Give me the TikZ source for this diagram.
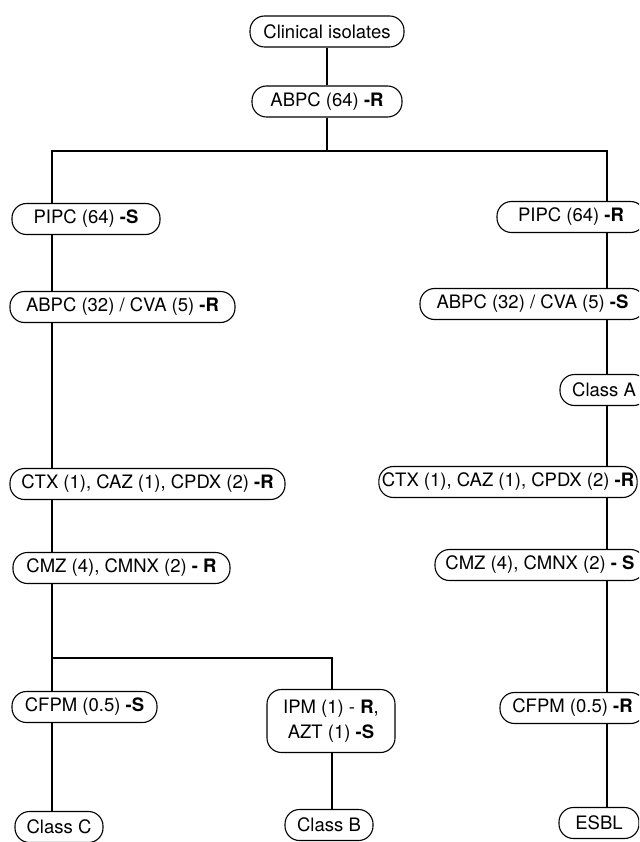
\documentclass[tikz,border=0pt]{standalone}
\usepackage{fontspec}
\setmainfont{TeX Gyre Heros}
\begin{document}
\begin{tikzpicture}[x=1pt,y=-1pt,
  box/.style={draw, line width=1.1pt, rectangle, rounded corners=14.5pt, minimum height=31pt, inner xsep=3pt, inner ysep=2pt, font=\fontsize{18.5}{25}\selectfont},
  link/.style={line width=1.8pt}]
\useasboundingbox (0,0) rectangle (639,842);
\clip (0,0) rectangle (639,842);
% trunk x positions
\coordinate (L) at (52,0);
\coordinate (R) at (607,0);
\coordinate (h1) at (327,151);
\coordinate (M) at (332,658);
% nodes
\node[box, minimum width=154pt] (clin) at (327,31.5) {Clinical isolates};
\node[box, minimum width=150pt] (abpc64) at (327,101.5) {ABPC (64) \textbf{-R}};
\node[box, minimum width=148pt] (pipcS) at (86,219) {PIPC (64) \textbf{-S}};
\node[box, minimum width=148pt] (pipcR) at (571,217) {PIPC (64) \textbf{-R}};
\node[box, minimum width=225pt] (abpcR) at (122.5,307) {ABPC (32) / CVA (5) \textbf{-R}};
\node[box, minimum width=225pt] (abpcS) at (532.5,304) {ABPC (32) / CVA (5) \textbf{-S}};
\node[box, minimum width=88pt] (classA) at (604,390) {Class A};
\node[box, minimum width=275pt] (ctxL) at (147.5,484) {CTX (1), CAZ (1), CPDX (2) \textbf{-R}};
\node[box] (ctxR) at (508,482) {CTX (1), CAZ (1), CPDX (2) \textbf{-R}};
\node[box, minimum width=217pt] (cmzL) at (121.5,568) {CMZ (4), CMNX (2) \textbf{- R}};
\node[box, minimum width=210pt] (cmzR) at (540,565) {CMZ (4), CMNX (2) \textbf{- S}};
\node[box, minimum width=145pt] (cfpmS) at (84.5,707) {CFPM (0.5) \textbf{-S}};
\node[box, minimum width=128pt, minimum height=63pt, align=center] (ipm) at (331,721) {IPM (1) - \textbf{R},\\AZT (1) \textbf{-S}};
\node[box, minimum width=145pt] (cfpmR) at (572.5,708) {CFPM (0.5) \textbf{-R}};
\node[box, minimum width=88pt] (classC) at (59,827) {Class C};
\node[box, minimum width=88pt] (classB) at (329,825) {Class B};
\node[box, minimum width=80pt] (esbl) at (599,823) {ESBL};
% connectors
\draw[link] (clin) -- (abpc64);
\draw[link] (abpc64) -- (h1);
\draw[link] (pipcS.north -| L) |- (h1 -| R) -- (pipcR.north -| R);
\draw[link] (pipcS.south -| L) -- (abpcR.north -| L);
\draw[link] (abpcR.south -| L) -- (ctxL.north -| L);
\draw[link] (ctxL.south -| L) -- (cmzL.north -| L);
\draw[link] (cmzL.south -| L) -- (cfpmS.north -| L);
\draw[link] (M -| L) -| (ipm.north -| M);
\draw[link] (cfpmS.south -| L) -- (classC.north -| L);
\draw[link] (ipm.south -| M) -- (classB.north -| M);
\draw[link] (pipcR.south -| R) -- (abpcS.north -| R);
\draw[link] (abpcS.south -| R) -- (classA.north -| R);
\draw[link] (classA.south -| R) -- (ctxR.north -| R);
\draw[link] (ctxR.south -| R) -- (cmzR.north -| R);
\draw[link] (cmzR.south -| R) -- (cfpmR.north -| R);
\draw[link] (cfpmR.south -| R) -- (esbl.north -| R);
\end{tikzpicture}
\end{document}
